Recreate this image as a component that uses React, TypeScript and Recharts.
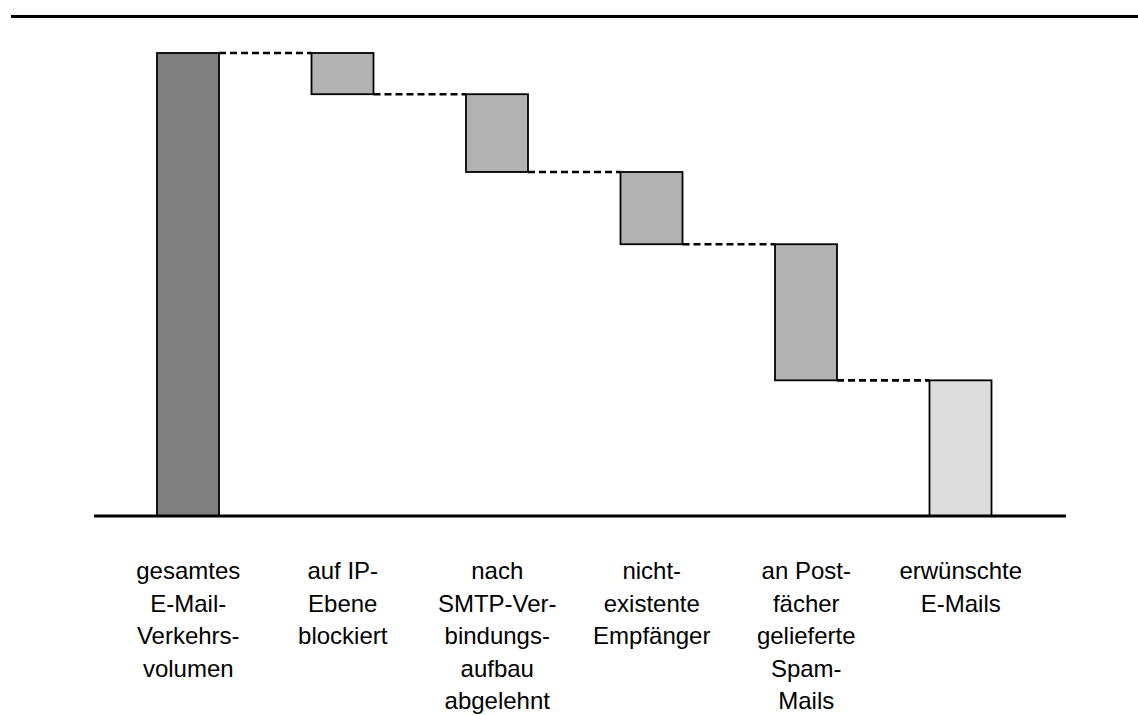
import React from 'react';
import { ComposedChart, Bar, XAxis, YAxis } from 'recharts';

const categories: string[][] = [
  ['gesamtes', 'E-Mail-', 'Verkehrs-', 'volumen'],
  ['auf IP-', 'Ebene', 'blockiert'],
  ['nach', 'SMTP-Ver-', 'bindungs-', 'aufbau', 'abgelehnt'],
  ['nicht-', 'existente', 'Empfänger'],
  ['an Post-', 'fächer', 'gelieferte', 'Spam-', 'Mails'],
  ['erwünschte', 'E-Mails'],
];
const values = [100, 8.9, 16.8, 15.6, 29.4, 29.3];
const kinds = ['total', 'step', 'step', 'step', 'step', 'total'];
const fills = ['#808080', '#b2b2b2', '#b2b2b2', '#b2b2b2', '#b2b2b2', '#dddddd'];

const W = 1138;
const H = 715;
const M = { top: 53, left: 94, right: 72, bottom: 0 };
const PAD = { left: 17, right: 28 };
const BAR = 62;
const BAND = (W - M.left - M.right - PAD.left - PAD.right) / categories.length;
const GAP = BAND - BAR;

let running = 0;
const data = categories.map((lines, i) => {
  let base = 0;
  if (kinds[i] === 'total') {
    base = 0;
    running = values[i];
  } else {
    running = running - values[i];
    base = running;
  }
  return { name: lines.join('\n'), base, delta: values[i], idx: i };
});

const WaterShape = (props: any) => {
  const { x, y, width, height, index } = props;
  const i = index as number;
  const level = i === 0 ? y : y + height;
  return (
    <g>
      <rect x={x} y={y} width={width} height={height} fill={fills[i]} stroke="#000" strokeWidth={1.8} />
      {i < categories.length - 1 && (
        <line
          x1={x + width}
          x2={x + width + GAP}
          y1={level}
          y2={level}
          stroke="#000"
          strokeWidth={2.6}
          strokeDasharray="7 4"
        />
      )}
    </g>
  );
};

const Tick = (props: any) => {
  const { x, y, payload } = props;
  const lines = String(payload.value).split('\n');
  return (
    <text
      x={x}
      y={y + 63}
      textAnchor="middle"
      fontFamily="'Liberation Sans', Arial, sans-serif"
      fontSize={24}
      fill="#000"
    >
      {lines.map((l, k) => (
        <tspan key={k} x={x} dy={k === 0 ? 0 : 32.5}>
          {l}
        </tspan>
      ))}
    </text>
  );
};

export default function App() {
  return (
    <div style={{ position: 'absolute', left: 0, top: 0, width: W, height: H, background: '#fff', overflow: 'hidden' }}>
      <div style={{ position: 'absolute', left: 11, top: 15, width: W - 11, height: 3, background: '#000' }} />
      <ComposedChart width={W} height={H} data={data} margin={M} barSize={BAR}>
        <XAxis
          dataKey="name"
          interval={0}
          padding={PAD}
          height={H - 516 - M.bottom}
          axisLine={{ stroke: '#000', strokeWidth: 3 }}
          tickLine={false}
          tickSize={0}
          tickMargin={0}
          tick={<Tick />}
        />
        <YAxis hide domain={[0, 100]} />
        <Bar dataKey="base" stackId="a" fill="transparent" isAnimationActive={false} />
        <Bar dataKey="delta" stackId="a" shape={<WaterShape />} isAnimationActive={false} />
      </ComposedChart>
    </div>
  );
}
